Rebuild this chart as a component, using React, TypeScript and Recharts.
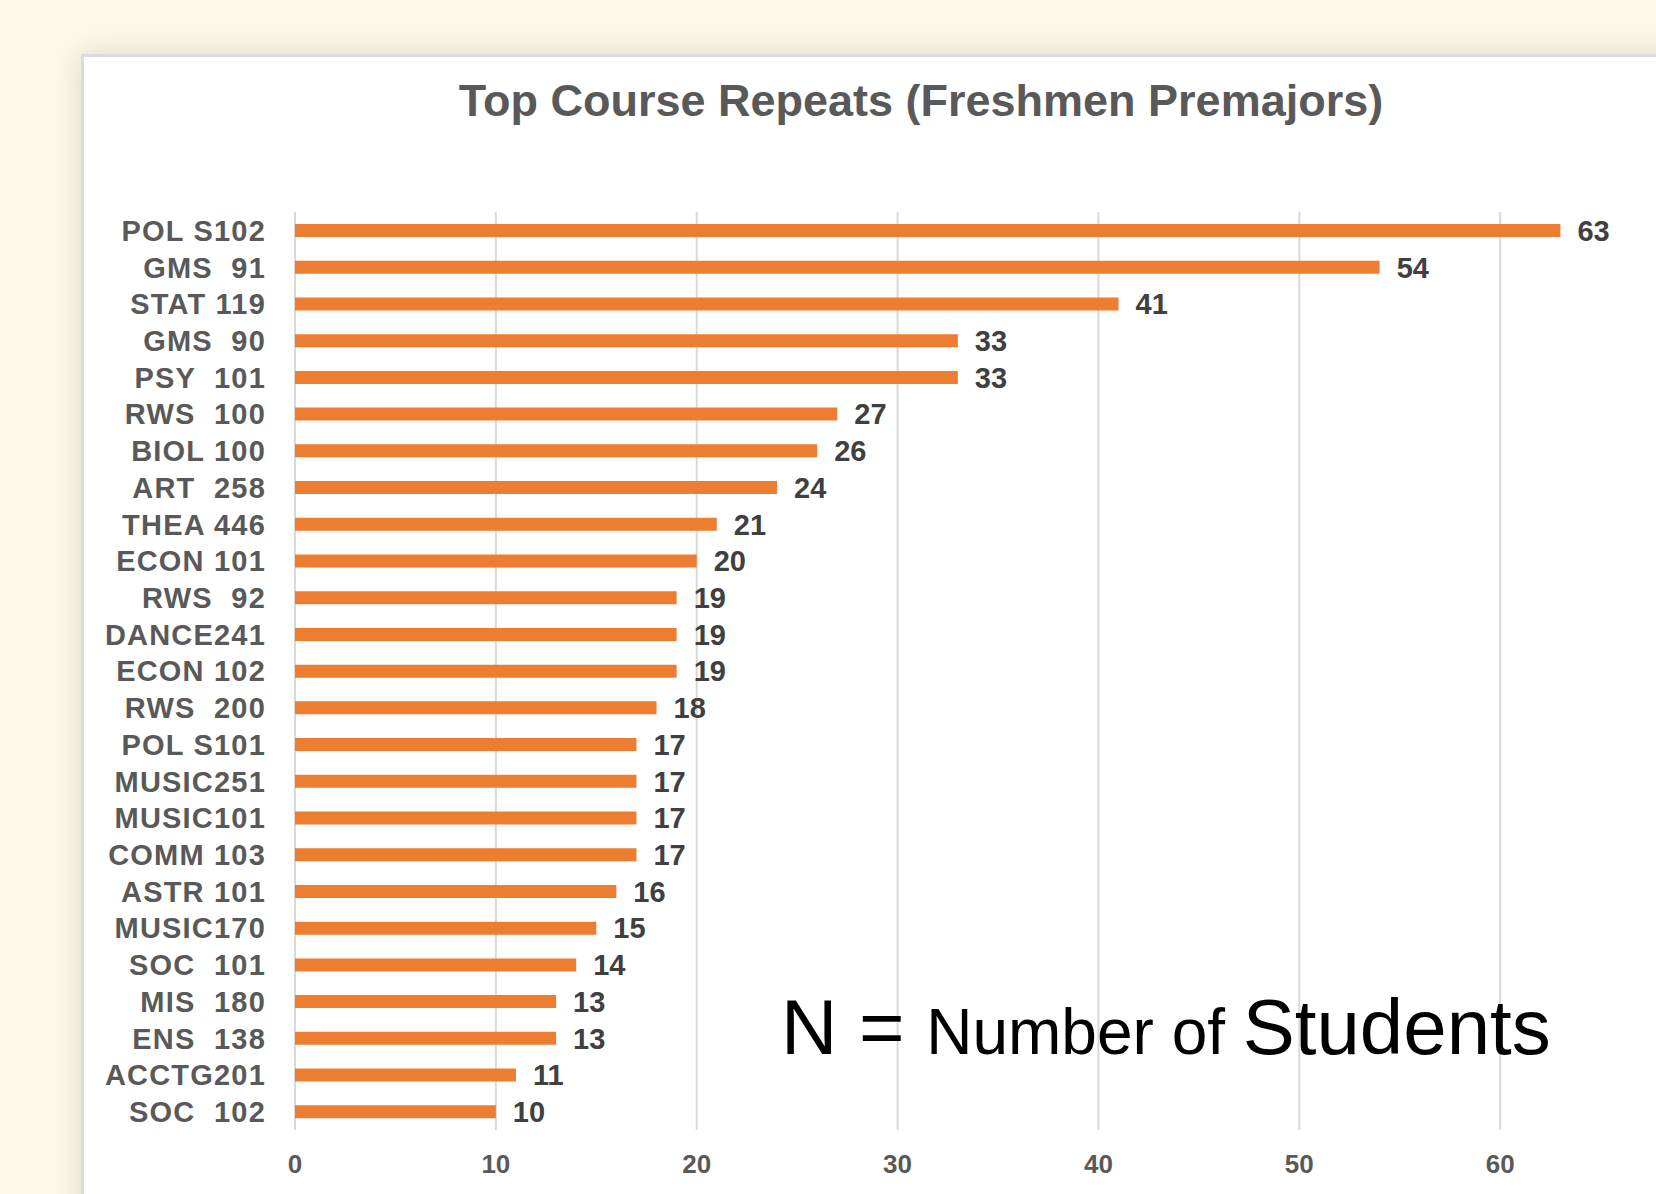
import React from 'react';
import { BarChart, Bar, XAxis, YAxis, CartesianGrid, LabelList } from 'recharts';

const courses = [
  'POL S102', 'GMS  91', 'STAT 119', 'GMS  90', 'PSY  101', 'RWS  100', 'BIOL 100', 'ART  258',
  'THEA 446', 'ECON 101', 'RWS  92', 'DANCE241', 'ECON 102', 'RWS  200', 'POL S101', 'MUSIC251',
  'MUSIC101', 'COMM 103', 'ASTR 101', 'MUSIC170', 'SOC  101', 'MIS  180', 'ENS  138', 'ACCTG201', 'SOC  102',
];
const repeats = [63, 54, 41, 33, 33, 27, 26, 24, 21, 20, 19, 19, 19, 18, 17, 17, 17, 17, 16, 15, 14, 13, 13, 11, 10];
const xTicks = [0, 10, 20, 30, 40, 50, 60];

const data = courses.map((name, i) => ({ name, value: repeats[i] }));

const FONT = '"Liberation Sans", Arial, sans-serif';

const CourseTick = (props: any) => {
  const { x, y, payload } = props;
  return (
    <text
      x={x}
      y={y}
      dy="0.36em"
      textAnchor="end"
      fill="#595959"
      fontFamily={FONT}
      fontSize={29}
      fontWeight="bold"
      letterSpacing={1.2}
      style={{ whiteSpace: 'pre' }}
    >
      {payload.value}
    </text>
  );
};

const App: React.FC = () => {
  return (
    <div
      style={{
        position: 'fixed',
        left: 0,
        top: 0,
        width: 1656,
        height: 1194,
        overflow: 'hidden',
        background: '#fdf9e8',
      }}
    >
      {/* card, runs off the right and bottom edges */}
      <div
        style={{
          position: 'absolute',
          left: 81,
          top: 54,
          width: 1656,
          height: 1250,
          background: '#ffffff',
          borderTop: '3px solid #dcdcdc',
          borderLeft: '3px solid #dcdcdc',
          boxShadow: '0 0 28px rgba(170, 160, 120, 0.35)',
        }}
      />
      <div
        style={{
          position: 'absolute',
          left: 0,
          width: 1842,
          top: 72,
          textAlign: 'center',
          fontFamily: FONT,
          fontWeight: 'bold',
          fontSize: 45,
          color: '#595959',
          lineHeight: '58px',
        }}
      >
        Top Course Repeats (Freshmen Premajors)
      </div>
      <div style={{ position: 'absolute', left: 0, top: 0 }}>
        {/* domain runs to 70 so the plot continues past the right edge like the original */}
        <BarChart
          width={1760}
          height={1194}
          data={data}
          layout="vertical"
          margin={{ top: 212, right: 59, bottom: 0, left: 0 }}
        >
          <CartesianGrid horizontal={false} vertical stroke="#d9d9d9" strokeWidth={2} />
          <XAxis
            type="number"
            domain={[0, 70]}
            ticks={xTicks}
            axisLine={false}
            tickLine={false}
            tickSize={0}
            tickMargin={25}
            height={64}
            tick={{ fill: '#595959', fontSize: 26, fontFamily: FONT, fontWeight: 'bold' }}
          />
          <YAxis
            type="category"
            dataKey="name"
            width={295}
            axisLine={false}
            tickLine={false}
            tickSize={0}
            tickMargin={29}
            interval={0}
            tick={<CourseTick />}
          />
          <Bar dataKey="value" fill="#ed7d31" barSize={13} isAnimationActive={false}>
            <LabelList
              dataKey="value"
              position="right"
              offset={17}
              fill="#404040"
              fontSize={29}
              fontFamily={FONT}
              fontWeight="bold"
            />
          </Bar>
        </BarChart>
      </div>
      <div
        style={{
          position: 'absolute',
          left: 781,
          top: 982,
          fontFamily: FONT,
          color: '#000000',
          whiteSpace: 'pre',
          lineHeight: '90px',
        }}
      >
        <span style={{ fontSize: 78 }}>N = </span>
        <span style={{ fontSize: 64 }}>Number of </span>
        <span style={{ fontSize: 78 }}>Students</span>
      </div>
    </div>
  );
};

export default App;
